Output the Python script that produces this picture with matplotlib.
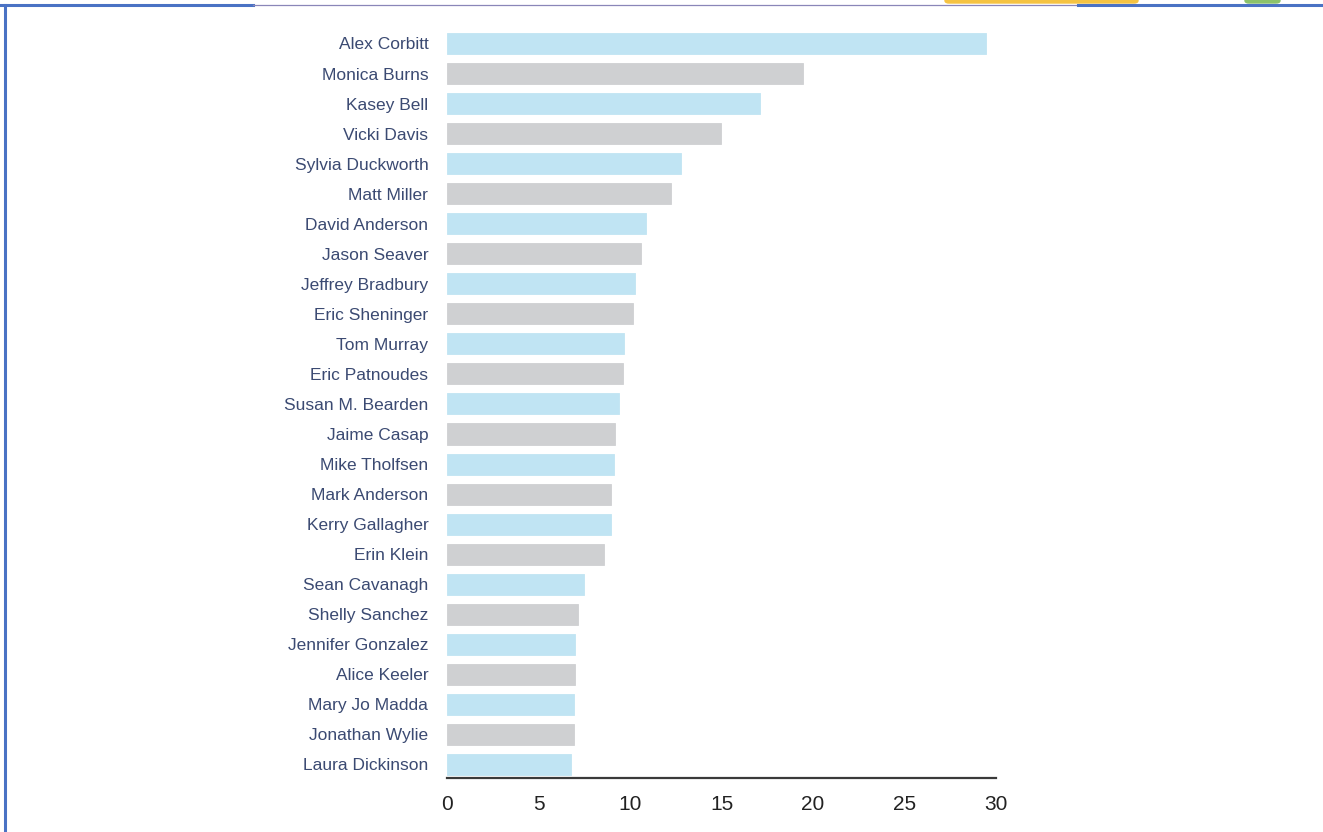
import matplotlib.pyplot as plt
from matplotlib.lines import Line2D
from matplotlib.patches import FancyBboxPatch

names = ['Alex Corbitt', 'Monica Burns', 'Kasey Bell', 'Vicki Davis',
         'Sylvia Duckworth', 'Matt Miller', 'David Anderson', 'Jason Seaver',
         'Jeffrey Bradbury', 'Eric Sheninger', 'Tom Murray', 'Eric Patnoudes',
         'Susan M. Bearden', 'Jaime Casap', 'Mike Tholfsen', 'Mark Anderson',
         'Kerry Gallagher', 'Erin Klein', 'Sean Cavanagh', 'Shelly Sanchez',
         'Jennifer Gonzalez', 'Alice Keeler', 'Mary Jo Madda', 'Jonathan Wylie',
         'Laura Dickinson']
scores = [29.45, 19.45, 17.1, 14.95, 12.77, 12.22, 10.89, 10.58, 10.26, 10.18,
          9.67, 9.6, 9.38, 9.18, 9.14, 8.96, 8.98, 8.56, 7.49, 7.17,
          6.99, 7.0, 6.96, 6.96, 6.78]
xticks = [0, 5, 10, 15, 20, 25, 30]

blue = '#c0e4f3'
grey = '#cfd0d2'
colors = [blue if i % 2 == 0 else grey for i in range(len(names))]

plt.rcParams['font.family'] = ['Liberation Sans', 'DejaVu Sans']

fig = plt.figure(figsize=(13.23, 8.32), dpi=100)
ax = fig.add_axes([0.3379, 0.0649, 0.4150, 0.9002])

ypos = list(range(len(names)))
ax.barh(ypos, scores, height=0.7, color=colors, edgecolor=colors, linewidth=0.6)
ax.set_ylim(24.45, -0.48)
ax.set_xlim(0, 30)

ax.set_yticks(ypos)
ax.set_yticklabels(names, fontsize=12.5, color='#3b4a72')
ax.set_xticks(xticks)
ax.set_xticklabels([str(t) for t in xticks], fontsize=15, color='#222222')
ax.tick_params(axis='y', length=0, pad=13.5)
ax.tick_params(axis='x', length=0, pad=12)

for s in ['top', 'right', 'left']:
    ax.spines[s].set_visible(False)
ax.spines['bottom'].set_color('#3a3a3a')
ax.spines['bottom'].set_linewidth(1.6)

# screenshot frame around the chart
fig.add_artist(Line2D([5 / 1323, 5 / 1323], [0, 1 - 5 / 832],
                      transform=fig.transFigure, color='#4a72c4', lw=2.2))
fig.add_artist(Line2D([0, 253 / 1323], [1 - 5 / 832, 1 - 5 / 832],
                      transform=fig.transFigure, color='#4a72c4', lw=2.2))
fig.add_artist(Line2D([253 / 1323, 1078 / 1323], [1 - 5 / 832, 1 - 5 / 832],
                      transform=fig.transFigure, color='#8a86b8', lw=0.9))
fig.add_artist(Line2D([1078 / 1323, 1], [1 - 5 / 832, 1 - 5 / 832],
                      transform=fig.transFigure, color='#4a72c4', lw=2.2))
fig.add_artist(FancyBboxPatch((945 / 1323, 1 - 3 / 832), 193 / 1323, 6 / 832,
                              boxstyle='round,pad=0,rounding_size=0.003',
                              transform=fig.transFigure, color='#f5c342'))
fig.add_artist(FancyBboxPatch((1245 / 1323, 1 - 3 / 832), 35 / 1323, 6 / 832,
                              boxstyle='round,pad=0,rounding_size=0.003',
                              transform=fig.transFigure, color='#8cc26a'))

fig.savefig('out.png', dpi=100)
